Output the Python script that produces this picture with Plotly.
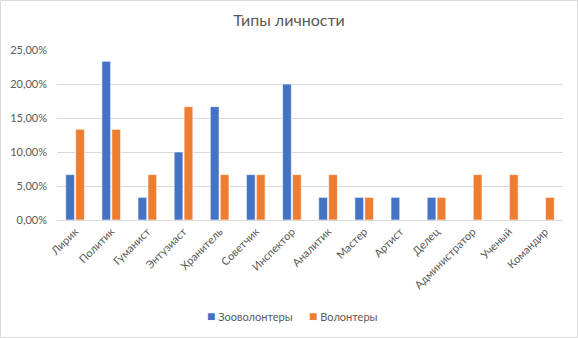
import plotly.graph_objects as go

categories = ["Лирик", "Политик", "Гуманист", "Энтузиаст", "Хранитель", "Советчик",
              "Инспектор", "Аналитик", "Мастер", "Артист", "Делец",
              "Администратор", "Ученый", "Командир"]
zoo_values = [0.0667, 0.2333, 0.0333, 0.10, 0.1667, 0.0667, 0.20, 0.0333, 0.0333,
              0.0333, 0.0333, 0.0, 0.0, 0.0]
vol_values = [0.1333, 0.1333, 0.0667, 0.1667, 0.0667, 0.0667, 0.0667, 0.0667, 0.0333,
              0.0, 0.0333, 0.0667, 0.0667, 0.0333]
y_ticks = [0, 0.05, 0.10, 0.15, 0.20, 0.25]
series_names = ["Зооволонтеры", "Волонтеры"]
series_colors = ["#4472C4", "#ED7D31"]

W, H = 578, 338
L, R, T, B = 57, 15, 50, 118
pw = W - L - R
ph = H - T - B

fig = go.Figure()
for name, vals, col in zip(series_names, [zoo_values, vol_values], series_colors):
    fig.add_trace(go.Bar(x=categories, y=vals, name=name, showlegend=False,
                         marker=dict(color=col, line=dict(color="white", width=0.6))))

# legend drawn as text items with coloured square glyphs
legend_x_px = [205, 307]
annotations = []
for name, col, xp in zip(series_names, series_colors, legend_x_px):
    annotations.append(dict(
        xref="paper", yref="paper", x=(xp - L) / pw, y=(ph - (316 - T)) / ph,
        xanchor="left", yanchor="middle", showarrow=False,
        text=f"<span style='color:{col};font-family:Liberation Sans;font-size:14px'>■</span> {name}",
        font=dict(size=11, color="#595959")))

fig.update_layout(
    width=W, height=H,
    margin=dict(l=L, r=R, t=T, b=B, autoexpand=False),
    paper_bgcolor="white", plot_bgcolor="white",
    separators=", ",
    font=dict(family="Lato, 'Open Sans', sans-serif", color="#595959", size=11),
    title=dict(text="Типы личности", x=0.5, xanchor="center", xref="container",
               y=1 - 20 / H, yanchor="middle", yref="container",
               font=dict(size=16, color="#595959")),
    barmode="group", bargap=0.45, bargroupgap=0.12,
    showlegend=False,
    annotations=annotations,
    xaxis=dict(tickangle=-45, showgrid=False, showline=True, linecolor="#D9D9D9",
               ticks="", automargin=False, tickfont=dict(size=11, color="#595959")),
    yaxis=dict(range=[0, 0.25], tickvals=y_ticks, tickformat=".2%", showgrid=True,
               gridcolor="#D9D9D9", zeroline=False, showline=False, ticks="", automargin=False,
               ticklabelstandoff=9, tickfont=dict(size=11, color="#595959")),
    shapes=[dict(type="rect", xref="paper", yref="paper",
                 x0=(0.5 - L) / pw, x1=(W - 0.5 - L) / pw,
                 y0=-(H - 0.5 - T - ph) / ph,
                 y1=(T - 0.5) / ph + 1,
                 line=dict(color="#D9D9D9", width=1))],
)

fig.write_html("out.html", config={"displayModeBar": False},
               post_script="document.body.style.margin='0';document.body.style.overflow='hidden';")
